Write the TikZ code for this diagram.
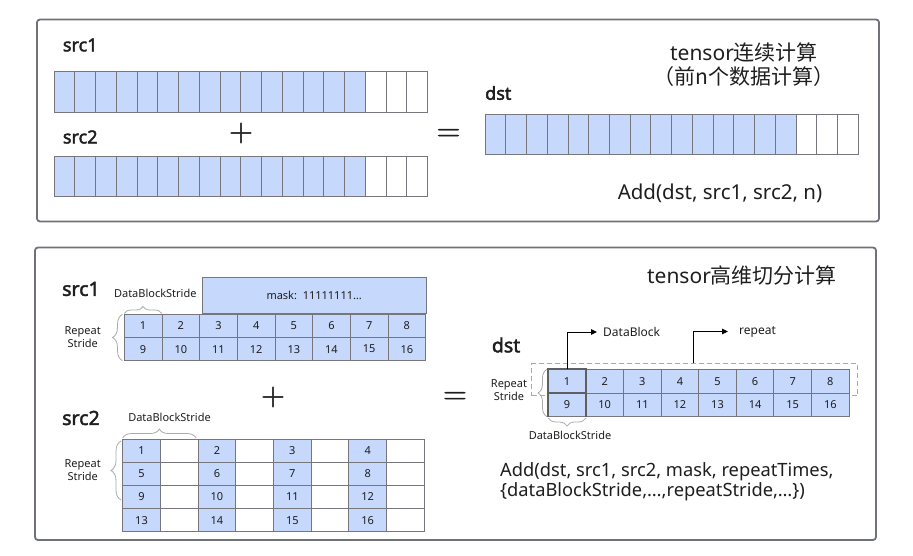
\documentclass[tikz,border=0pt]{standalone}
\usepackage{fontspec}
\setmainfont{Noto Sans}[AutoFakeBold=2.2]
\newfontfamily\cjk{Noto Sans CJK SC}
\newfontfamily\opfont{Latin Modern Roman}[FakeBold=1.2]
\usetikzlibrary{arrows.meta,decorations.pathreplacing,calc}
\definecolor{cellblue}{RGB}{198,216,251}
\definecolor{gridgray}{RGB}{118,118,124}
\definecolor{panelgray}{RGB}{112,114,122}
\definecolor{bracegray}{RGB}{170,170,170}
\definecolor{txt}{RGB}{30,30,30}
\begin{document}
\begin{tikzpicture}[x=1pt,y=-1pt,
  panel/.style={draw=panelgray,line width=1.8pt,rounded corners=3pt},
  tcell/.style={draw=gridgray,line width=0.9pt,minimum width=20.76pt,minimum height=40.6pt,inner sep=0pt,outer sep=0pt,anchor=north west},
  gcell/.style={draw=gridgray,line width=0.9pt,minimum width=37.67pt,minimum height=23.2pt,inner sep=0pt,outer sep=0pt,anchor=north west,text=txt,font=\fontsize{11}{13}\selectfont},
  dcell/.style={gcell,minimum width=37.6pt,minimum height=23.7pt},
  lbl/.style={anchor=west,inner sep=0pt,text=txt,font=\bfseries\fontsize{18}{20}\selectfont},
  small/.style={text=txt,font=\fontsize{11}{13}\selectfont,inner sep=0pt},
  big/.style={text=txt,font=\fontsize{21}{24}\selectfont,inner sep=0pt},
  op/.style={text=txt,font=\opfont\fontsize{33}{36}\selectfont,inner sep=0pt},
  brc/.style={draw=bracegray,line width=0.8pt,decorate,decoration={brace,amplitude=#1}},
  arr/.style={draw=black,line width=1pt,-{Triangle[length=6pt,width=5.5pt]}},
]
\path[use as bounding box] (0,0) rectangle (913,556);

% panels
\draw[panel] (37,19.5) rectangle (879,221.5);
\draw[panel] (35,247.5) rectangle (876,540);

% ---------- top panel ----------
\node[lbl] (ts1) at (62.7,45) {src1};
\node[lbl] (ts2) at (62.7,137) {src2};
\node[lbl] (tdst) at (485,93) {dst};

\foreach \i in {0,...,14} {
  \node[tcell,fill=cellblue] (ta\i) at ({54+\i*20.76},71.7) {};
  \node[tcell,fill=cellblue] (tb\i) at ({54+\i*20.76},156) {};
  \node[tcell,fill=cellblue,minimum width=20.74pt,minimum height=40pt] (tc\i) at ({485+\i*20.74},114.3) {};
}
\foreach \i in {15,16,17} {
  \node[tcell,fill=white] (ta\i) at ({54+\i*20.76},71.7) {};
  \node[tcell,fill=white] (tb\i) at ({54+\i*20.76},156) {};
  \node[tcell,fill=white,minimum width=20.74pt,minimum height=40pt] (tc\i) at ({485+\i*20.74},114.3) {};
}

\node[op] (tplus) at (241,133) {+};
\node[op] (teq) at (448.5,135) {=};

\node[big] (tt1) at (744,52) {tensor{\cjk 连续计算}};
\node[big] (tt2) at (744,77) {\cjk （前n个数据计算）};
\node[big,font=\fontsize{20.5}{24}\selectfont] (tadd) at (720,193) {Add(dst, src1, src2, n)};

% ---------- bottom panel ----------
\node[big] (bt) at (742,275) {tensor{\cjk 高维切分计算}};

% src1
\node[lbl,font=\bfseries\fontsize{19.5}{22}\selectfont] (bs1) at (62,289) {src1};
\node[draw=gridgray,fill=cellblue,line width=0.9pt,minimum width=224pt,minimum height=36.6pt,anchor=north west,inner sep=0pt,text=txt,font=\fontsize{11}{13}\selectfont] (mask) at (201.7,276.7) {mask:\ \ 11111111…};
\foreach \r in {0,1} {
  \foreach \c in {0,...,7} {
    \pgfmathtruncatemacro\n{\r*8+\c+1}
    \node[gcell,fill=cellblue] (p\r-\c) at ({124.3+\c*37.67},{314.3+\r*23.2}) {\n};
  }
}
\node[small] (s1dbs) at (155.3,293) {DataBlockStride};
\draw[brc=7pt] (124.3,313.5) -- (161.7,313.5);
\node[small,align=center] (s1rs) at (82.7,337.5) {Repeat\\Stride};
\draw[brc=10pt] (122.5,360.7) -- (122.5,314.3);

\node[op] (bplus) at (273,397) {+};
\node[op] (beq) at (455,398) {=};

% src2
\node[lbl,font=\bfseries\fontsize{19.5}{22}\selectfont] (bs2) at (62,418) {src2};
\foreach \r in {0,...,3} {
  \foreach \c in {0,...,7} {
    \pgfmathtruncatemacro\isodd{mod(\c,2)}
    \pgfmathtruncatemacro\n{\r*4+\c/2+1}
    \ifnum\isodd=0
      \node[gcell,fill=cellblue] (q\r-\c) at ({122.7+\c*37.7},{439+\r*23.2}) {\n};
    \else
      \node[gcell,fill=white] (q\r-\c) at ({122.7+\c*37.7},{439+\r*23.2}) {};
    \fi
  }
}
\node[small] (s2dbs) at (169.5,417.7) {DataBlockStride};
\draw[brc=9pt] (122.7,438) -- (196,438);
\node[small,align=center] (s2rs) at (82.7,470) {Repeat\\Stride};
\draw[brc=10pt] (121,500) -- (121,441);

% dst
\node[lbl,font=\bfseries\fontsize{19.5}{22}\selectfont] (bdst) at (491.7,345) {dst};
\node[draw=bracegray,line width=1.1pt,dash pattern=on 5pt off 3pt,minimum width=326.3pt,minimum height=31.7pt,anchor=north west,inner sep=0pt] (rbox) at (531,363.3) {};
\foreach \r in {0,1} {
  \foreach \c in {0,...,7} {
    \pgfmathtruncatemacro\n{\r*8+\c+1}
    \node[dcell,fill=cellblue] (d\r-\c) at ({548.3+\c*37.6},{369.3+\r*23.7}) {\n};
  }
}
\draw[draw=gridgray!80!black,line width=1.8pt] (d1-0.south west) -- (d0-0.north west) -- (d0-0.north east) -- (d1-0.south east);
\draw[draw=gridgray!80!black,line width=1.8pt] (d0-0.south west) -- (d0-0.south east);

\node[small,font=\fontsize{12}{14}\selectfont,anchor=west] (dbl) at (603,332) {DataBlock};
\draw[arr,shorten >=6pt] (d0-0.north) |- (dbl.west);
\coordinate (rstart) at (693.3,363.3);
\node[small,font=\fontsize{12}{14}\selectfont,anchor=west] (rpl) at (739,331.5) {repeat};
\draw[arr,shorten >=11pt] (rstart) |- (rpl.west);

\node[small,align=center] (drs) at (509,390) {Repeat\\Stride};
\draw[brc=9pt] (547,416.7) -- (547,369.3);
\draw[brc=8pt] (585.9,418) -- (548.3,418);
\node[small] (ddbs) at (570,435) {DataBlockStride};

\node[big,font=\fontsize{18.3}{20}\selectfont,anchor=north west,align=left] (badd) at (500,462) {Add(dst, src1, src2, mask, repeatTimes,\\\{dataBlockStride,…,repeatStride,…\})};
\end{tikzpicture}
\end{document}
